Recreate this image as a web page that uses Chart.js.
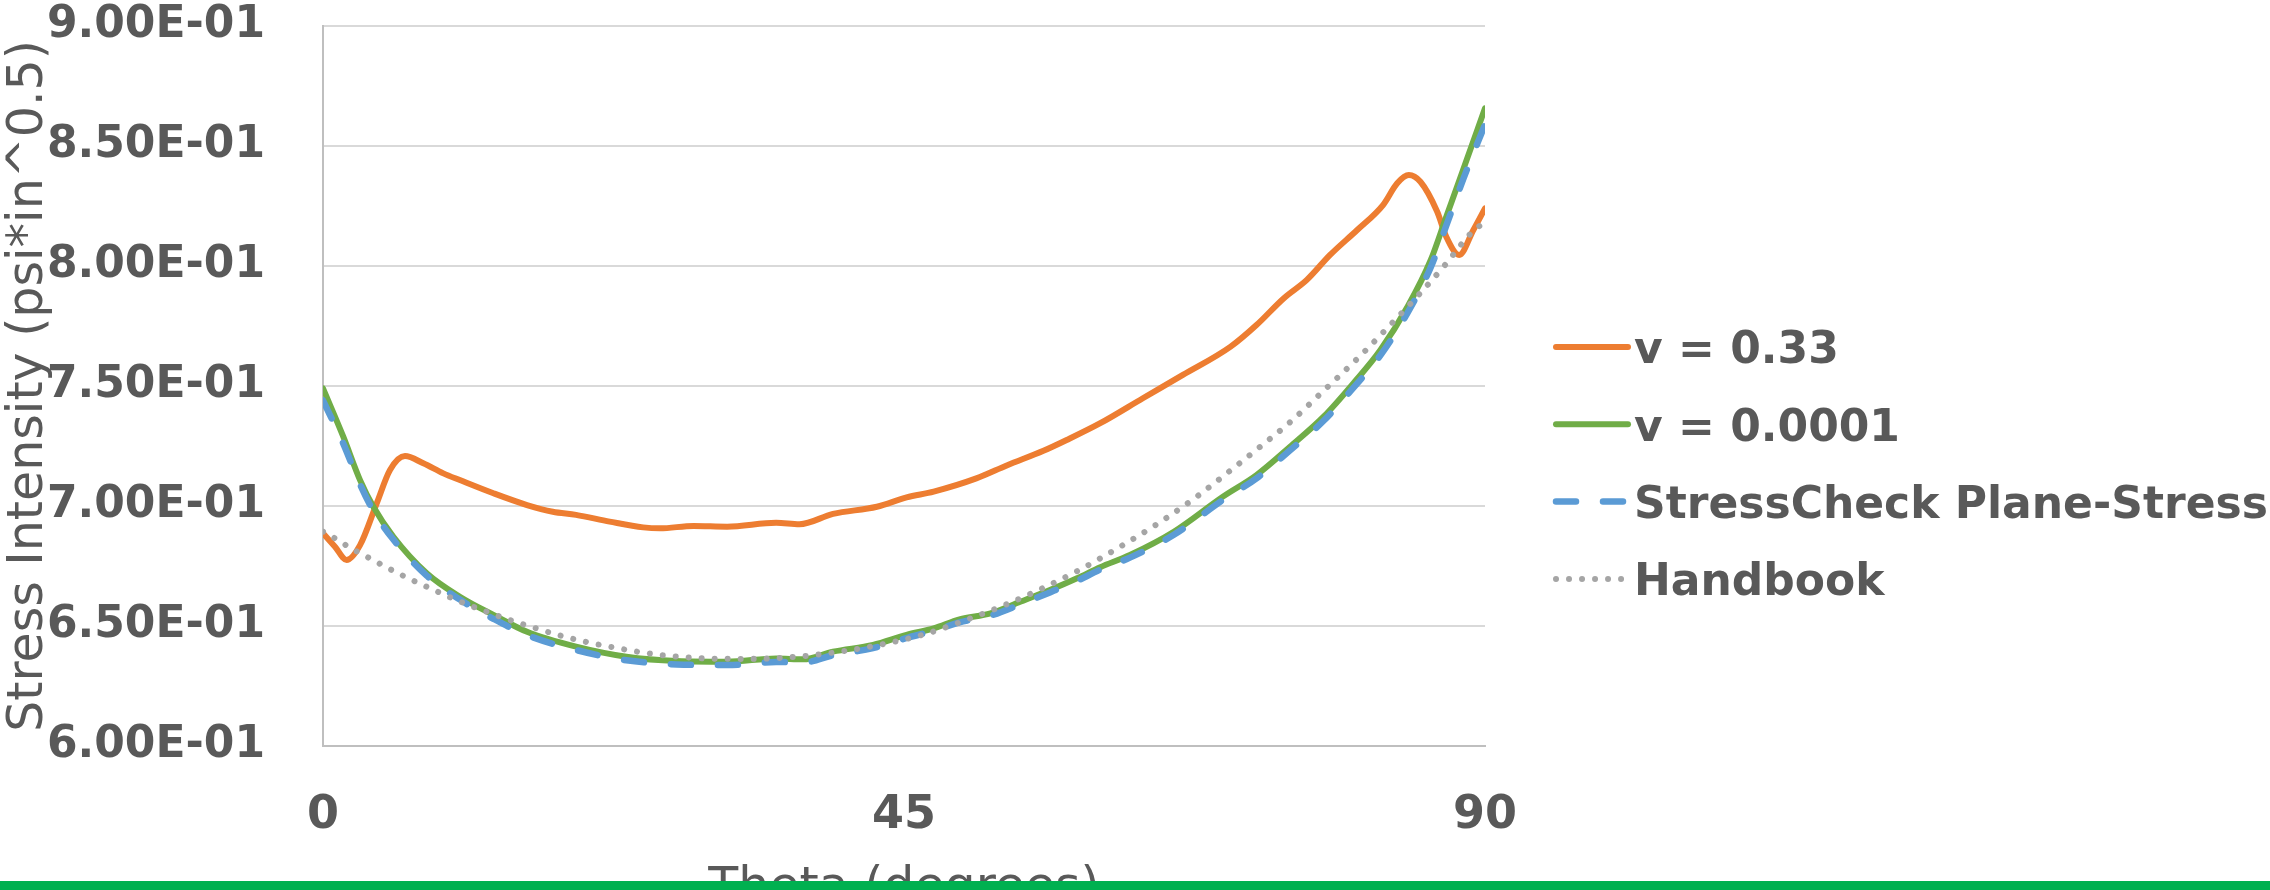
<!DOCTYPE html>
<html>
<head>
<meta charset="utf-8">
<title>Stress Intensity vs Theta</title>
<script src="https://cdn.jsdelivr.net/npm/chart.js@4.4.1/dist/chart.umd.min.js"></script>
<style>
  html, body { margin: 0; padding: 0; background: #ffffff; }
  #wrap { position: relative; width: 2270px; height: 890px; overflow: hidden; }
  #chart { position: absolute; left: 0; top: 0; }
  #rule { position: absolute; left: 0; top: 881px; width: 2270px; height: 9px; background: #00b050; }
</style>
</head>
<body>
<div id="wrap">
  <canvas id="chart" width="2270" height="890"></canvas>
  <div id="rule"></div>
</div>
<script>
// Theta (degrees) and stress intensity (psi*in^0.5) for each series
const thetaNu033 = [0, 0.93, 1.83, 2.87, 4.16, 5.19, 6.35, 7.77, 9.32, 10.6, 13.2, 15.8, 17.8, 19.6, 22.2, 24.8, 26.1, 28.7, 31.3, 35.1, 36.9, 39.5, 42.9, 45.2, 47.3, 50.6, 53.0, 55.8, 57.6, 60.2, 63.5, 66.6, 70.3, 72.3, 74.4, 76.2, 78.0, 80.1, 82.1, 83.2, 84.1, 85.0, 86.3, 87.0, 88.0, 89.1, 90];
const kNu033 = [0.6886, 0.6830, 0.6775, 0.6837, 0.7011, 0.7150, 0.7208, 0.7178, 0.7136, 0.7108, 0.7053, 0.7004, 0.6976, 0.6963, 0.6935, 0.6911, 0.6907, 0.6917, 0.6914, 0.6930, 0.6924, 0.6967, 0.6997, 0.7036, 0.7060, 0.7115, 0.7170, 0.7230, 0.7275, 0.7345, 0.7449, 0.7546, 0.7664, 0.7754, 0.7865, 0.7942, 0.8046, 0.8150, 0.8254, 0.8345, 0.8379, 0.8351, 0.8226, 0.8122, 0.8046, 0.8150, 0.8240];

const thetaNu0001 = [0, 1.57, 2.87, 3.9, 5.45, 8.03, 10.6, 13.2, 15.8, 19.6, 23.5, 27.4, 31.3, 35.1, 37.2, 39.5, 42.6, 45.2, 47.3, 49.3, 51.7, 54.0, 56.3, 58.4, 60.2, 62.5, 65.9, 69.7, 72.3, 74.9, 77.5, 79.8, 81.9, 84.0, 85.8, 87.0, 88.3, 90];
const kNu0001 = [0.7490, 0.7289, 0.7108, 0.6997, 0.6872, 0.6720, 0.6622, 0.6546, 0.6476, 0.6414, 0.6372, 0.6354, 0.6351, 0.6365, 0.6361, 0.6393, 0.6421, 0.6463, 0.6490, 0.6528, 0.6553, 0.6601, 0.6650, 0.6699, 0.6745, 0.6796, 0.6893, 0.7039, 0.7129, 0.7247, 0.7372, 0.7511, 0.7650, 0.7830, 0.8025, 0.8205, 0.8400, 0.8657];

const thetaStressCheck = [0, 1.57, 2.87, 3.9, 5.45, 8.03, 10.6, 13.2, 15.8, 19.6, 23.5, 27.4, 31.3, 35.1, 37.2, 39.5, 42.6, 45.2, 47.3, 49.3, 51.7, 54.0, 56.3, 58.4, 60.2, 62.5, 65.9, 69.7, 72.3, 74.9, 77.5, 79.8, 81.9, 84.0, 85.8, 87.0, 88.3, 90];
const kStressCheck = [0.7440, 0.7260, 0.7090, 0.6980, 0.6860, 0.6710, 0.6610, 0.6530, 0.6462, 0.6400, 0.6357, 0.6340, 0.6337, 0.6350, 0.6348, 0.6378, 0.6408, 0.6450, 0.6480, 0.6515, 0.6543, 0.6590, 0.6640, 0.6688, 0.6735, 0.6785, 0.6880, 0.7025, 0.7115, 0.7232, 0.7355, 0.7492, 0.7628, 0.7805, 0.7995, 0.8168, 0.8360, 0.8590];

const thetaHandbook = [0, 0.93, 1.83, 2.74, 3.69, 4.62, 5.58, 6.53, 7.51, 8.47, 9.43, 10.4, 11.4, 12.4, 14.4, 16.4, 18.4, 20.5, 22.6, 24.7, 26.7, 28.9, 30, 33.1, 37.3, 40.5, 43.7, 46.8, 49.8, 52.7, 55.6, 58.5, 62.2, 64.9, 67.5, 70.0, 72.5, 75.0, 77.3, 80.4, 82.6, 84.8, 86.9, 88.9, 90];
const kHandbook = [0.6893, 0.6865, 0.6835, 0.6807, 0.6780, 0.6753, 0.6726, 0.6701, 0.6676, 0.6653, 0.6629, 0.6607, 0.6585, 0.6565, 0.6526, 0.6492, 0.6460, 0.6432, 0.6410, 0.6390, 0.6376, 0.6367, 0.6364, 0.6363, 0.6375, 0.6397, 0.6428, 0.6469, 0.6525, 0.6585, 0.6654, 0.6731, 0.6845, 0.6935, 0.7032, 0.7136, 0.7243, 0.7354, 0.7470, 0.7629, 0.7751, 0.7876, 0.8004, 0.8136, 0.8185];

const seriesNames = ['v = 0.33', 'v = 0.0001', 'StressCheck Plane-Stress', 'Handbook'];
const thetaTicks = [0, 45, 90];
const kTickMin = 0.60, kTickMax = 0.90, kTickStep = 0.05;

const pairs = (xs, ys) => xs.map((x, i) => ({ x: x, y: ys[i] }));

const TEXT = '#595959';
const FONT = "'DejaVu Sans', 'Open Sans', sans-serif";

// Excel-style scientific label, e.g. 9.00E-01
function sciLabel(v) {
  const parts = Number(v).toExponential(2).split('e');
  const e = parseInt(parts[1], 10);
  return parts[0] + 'E' + (e < 0 ? '-' : '+') + String(Math.abs(e)).padStart(2, '0');
}

// Series key drawn to the right of the plot area
const seriesKey = {
  id: 'seriesKey',
  afterDraw(chart) {
    const { ctx, chartArea } = chart;
    const x0 = chartArea.right + 71;
    const sampleLen = 72;
    const firstRow = 347;
    const rowGap = 77.3;
    chart.data.datasets.forEach((ds, i) => {
      const y = firstRow + i * rowGap;
      ctx.save();
      ctx.strokeStyle = ds.borderColor;
      ctx.lineWidth = ds.borderWidth;
      ctx.lineCap = ds.borderCapStyle || 'round';
      ctx.setLineDash(ds.borderDash || []);
      ctx.beginPath();
      ctx.moveTo(x0, y);
      ctx.lineTo(x0 + sampleLen, y);
      ctx.stroke();
      ctx.setLineDash([]);
      ctx.fillStyle = TEXT;
      ctx.font = 'bold 44px ' + FONT;
      ctx.textAlign = 'left';
      ctx.textBaseline = 'middle';
      ctx.fillText(ds.label, x0 + sampleLen + 6, y + 5);
      ctx.restore();
    });
  }
};

const common = { pointRadius: 0, pointHoverRadius: 0, fill: false, cubicInterpolationMode: 'monotone', borderCapStyle: 'round', borderJoinStyle: 'round' };

new Chart(document.getElementById('chart'), {
  type: 'line',
  data: {
    datasets: [
      Object.assign({}, common, { label: seriesNames[0], data: pairs(thetaNu033, kNu033), borderColor: '#ed7d31', borderWidth: 6, order: 4 }),
      Object.assign({}, common, { label: seriesNames[1], data: pairs(thetaNu0001, kNu0001), borderColor: '#70ad47', borderWidth: 6, order: 3 }),
      Object.assign({}, common, { label: seriesNames[2], data: pairs(thetaStressCheck, kStressCheck), borderColor: '#5b9bd5', borderWidth: 6.5, borderDash: [20, 27], order: 2 }),
      Object.assign({}, common, { label: seriesNames[3], data: pairs(thetaHandbook, kHandbook), borderColor: '#a5a5a5', borderWidth: 6, borderDash: [0.01, 13], order: 1 })
    ]
  },
  options: {
    responsive: false,
    animation: false,
    devicePixelRatio: 1,
    layout: { padding: { top: 26, right: 785, bottom: 0, left: 0 } },
    plugins: { legend: { display: false }, tooltip: { enabled: false }, title: { display: false } },
    scales: {
      x: {
        type: 'linear',
        min: thetaTicks[0],
        max: thetaTicks[thetaTicks.length - 1],
        afterBuildTicks: (scale) => { scale.ticks = thetaTicks.map(v => ({ value: v })); },
        afterFit: (scale) => { scale.height = 144; },
        grid: { display: false, drawTicks: false },
        border: { display: true, color: '#bfbfbf', width: 2 },
        ticks: { color: TEXT, padding: 47, maxRotation: 0, font: { family: FONT, size: 46, weight: 'bold', lineHeight: 1 } },
        title: { display: true, text: 'Theta (degrees)', color: TEXT, padding: { top: 0, bottom: -24 }, font: { family: FONT, size: 49, weight: 'normal', lineHeight: 1 } }
      },
      y: {
        type: 'linear',
        min: kTickMin,
        max: kTickMax,
        afterFit: (scale) => { scale.width = 323; scale.paddingTop = 0; scale.paddingBottom = 0; },
        grid: { color: '#d9d9d9', lineWidth: 2, drawTicks: false },
        border: { display: true, color: '#bfbfbf', width: 2 },
        ticks: { stepSize: kTickStep, color: TEXT, padding: 58, callback: sciLabel, font: { family: FONT, size: 44, weight: 'bold', lineHeight: 1 } },
        title: { display: true, text: 'Stress Intensity (psi*in^0.5)', color: TEXT, padding: { top: 5, bottom: 0 }, font: { family: FONT, size: 49, weight: 'normal', lineHeight: 1 } }
      }
    }
  },
  plugins: [seriesKey]
});
</script>
</body>
</html>
